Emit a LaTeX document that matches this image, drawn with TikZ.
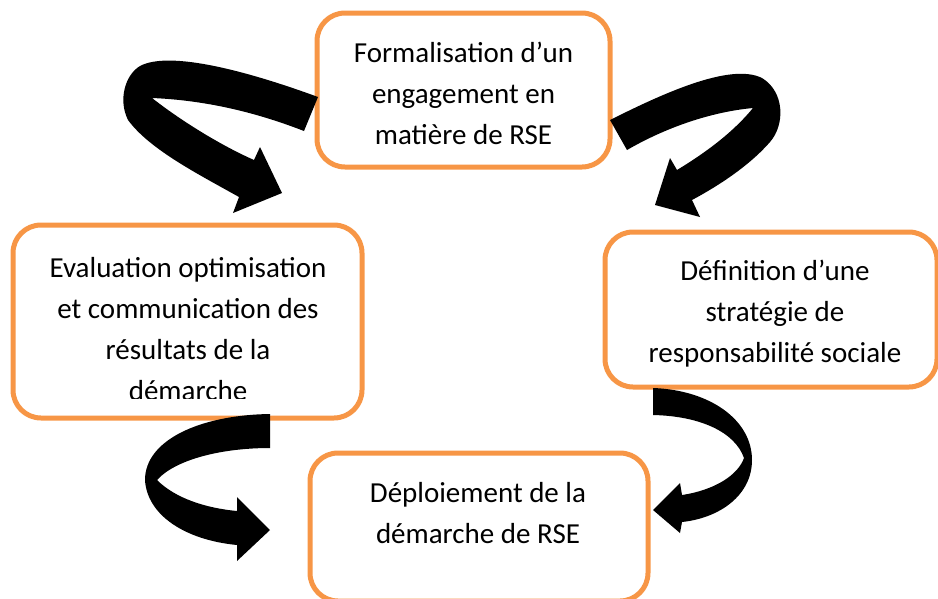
\documentclass[tikz,border=0pt]{standalone}
\usepackage{fontspec}
\setmainfont{Carlito}
\definecolor{boxorange}{HTML}{F79646}
\tikzset{
  stagebox/.style={draw=boxorange, line width=5pt, rounded corners=28pt,
    fill=white, inner sep=0pt, outer sep=0pt},
  stagetext/.style={align=center, anchor=base, inner sep=0pt,
    font=\fontsize{29}{41}\selectfont},
  turnarrow/.style={fill=black, draw=none}
}
\begin{document}
\begin{tikzpicture}[x=1pt,y=-1pt]
\useasboundingbox (0,0) rectangle (938,598);

% the four stages of the cycle
\node[stagebox, minimum width=293pt, minimum height=154pt] (engage) at (463.5,90) {};
\node[stagebox, minimum width=349pt, minimum height=193pt] (evalbox) at (187.5,321.5) {};
\node[stagebox, minimum width=332pt, minimum height=155pt] (strat) at (771,309.5) {};
\node[stagebox, minimum width=338pt, minimum height=148pt] (deploy) at (479,527) {};

% texts, placed by the baseline of their last line
\node[stagetext] (engagetxt) at (463.5,144) {Formalisation d’un\\engagement en\\matière de RSE};
\node[stagetext] (strattxt) at (775,362) {Définition d’une\\stratégie de\\responsabilité sociale};
\node[stagetext] (deploytxt) at (478,543) {Déploiement de la\\démarche de RSE};
\begin{scope}
  \clip (13,225) rectangle (362,398);
  \node[stagetext] (evaltxt) at (188,400) {Evaluation optimisation\\et communication des\\résultats de la\\démarche};
\end{scope}

% curved arrows between the stages
% top left: from the commitment to the evaluation
\path[turnarrow] (318,97)
  .. controls (250,72) and (170,50) .. (140,66)
  .. controls (125,75) and (118,100) .. (128,120)
  .. controls (150,150) and (200,175) .. (239,197)
  -- (233,213) -- (282,193) -- (260,147) -- (254,160)
  .. controls (220,145) and (180,120) .. (152,98)
  .. controls (200,100) and (250,110) .. (304,131) -- cycle;
% top right: from the commitment to the strategy
\path[turnarrow] (610,120)
  .. controls (660,95) and (730,62) .. (762,78)
  .. controls (785,92) and (785,125) .. (770,142)
  .. controls (750,165) and (720,185) .. (692,200)
  -- (700,217) -- (655,205) -- (670,158) -- (677,170)
  .. controls (710,150) and (735,130) .. (753,108)
  .. controls (710,112) and (665,128) .. (627,150) -- cycle;
% bottom left: from the evaluation to the deployment
\path[turnarrow] (270,414) -- (270,448)
  .. controls (220,448) and (175,460) .. (157,480)
  .. controls (175,498) and (205,508) .. (237,511)
  -- (237,497) -- (270,530) -- (237,561) -- (237,545)
  .. controls (185,540) and (147,515) .. (145,480)
  .. controls (145,440) and (200,415) .. (270,414) -- cycle;
% bottom right: from the strategy to the deployment
\path[turnarrow] (653,388)
  .. controls (710,390) and (752,420) .. (752,460)
  .. controls (752,495) and (720,518) .. (682,522)
  -- (680,533) -- (653,510) -- (680,483) -- (682,495)
  .. controls (715,490) and (738,475) .. (744,458)
  .. controls (735,432) and (700,416) .. (653,415) -- cycle;
\end{tikzpicture}
\end{document}
